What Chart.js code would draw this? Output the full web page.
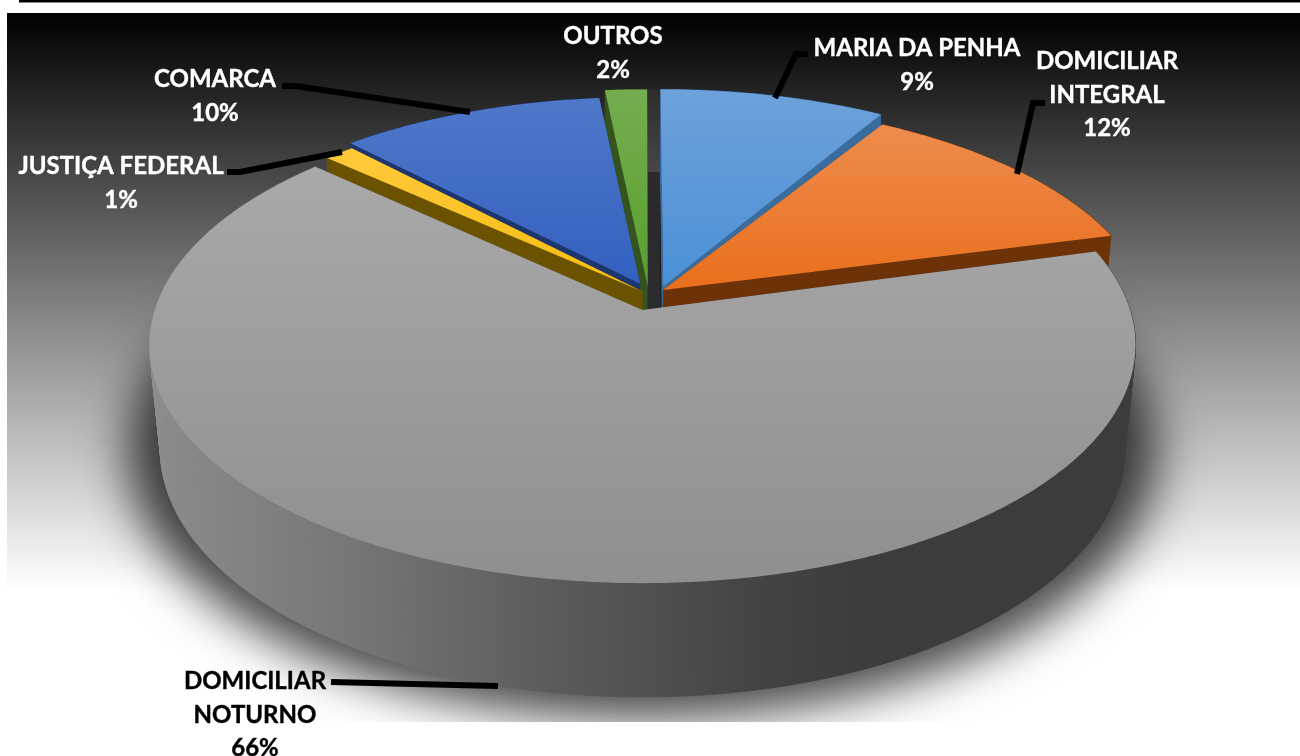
<!DOCTYPE html>
<html><head><meta charset="utf-8">
<style>html,body{margin:0;padding:0;background:#fff}canvas{display:block}</style>
<script src="https://cdn.jsdelivr.net/npm/chart.js@4"></script>
</head><body>
<canvas id="c" width="1300" height="756"></canvas>
<script>
const categories = ['MARIA DA PENHA','DOMICILIAR INTEGRAL','DOMICILIAR NOTURNO','JUSTIÇA FEDERAL','COMARCA','OUTROS'];
const percentValues = [8.6,12.2,66,1.2,10.4,1.6];
const labelLines = [['MARIA DA PENHA'],['DOMICILIAR','INTEGRAL'],['DOMICILIAR','NOTURNO'],['JUSTIÇA FEDERAL'],['COMARCA'],['OUTROS']];
const sliceColors = ['#5b9bd5','#ed7d31','#a5a5a5','#ffc000','#4472c4','#70ad47'];

// presentation only
const topGrad = [['#6ea1da','#4a90d6'],['#ee8c4e','#e96f1c'],['#a9a9a9','#8f8f8f'],['#ffc93c','#f5bd10'],['#4f78c8','#3360c0'],['#74ad50','#5a9f2e']];
const wallCol = ['#3a6c9e','#6e3208','#666','#6b5200','#1c3670','#35531f'];
const explodeU = [.043,.0426,0,0,-.005,.011];
const explodeV = [.1,.087,0,.08,.115,.1];
const radiusU  = [1,1,1,.97,.97,1];
const radiusV  = [1,.95,1,.95,.94,1];
const paintOrder = [0,1,5,4,3,2];
const labelPos = [[917,48],[1107,61],[255,681],[121,166],[215,79],[613,36]];
const labelColor = ['#fff','#fff','#000','#fff','#fff','#fff'];
const leaders = [
 [[808,54],[796,54],[775,98]],
 [[1045,103],[1033,103],[1017,174]],
 [[331,682],[498,686]],
 [[227,172],[240,172],[342,152]],
 [[282,86],[296,86],[470,112]],
];
const P = {cx:642.5, cy:310, A:487.6, B:233, k:.147, D:105.6, m:.022};
function proj(u,v,z){const w=1+P.k*v+P.m*z;return [P.cx+P.A*u/w, P.cy+(-P.B*v+P.D*z)/w];}

function poly(ctx,pts){ctx.beginPath();pts.forEach((p,i)=>i?ctx.lineTo(p[0],p[1]):ctx.moveTo(p[0],p[1]));ctx.closePath();}

const pie3d = {
 id:'pie3d',
 beforeDraw(chart){
  const c=chart.ctx;
  c.save();
  c.fillStyle='#fff';c.fillRect(0,0,1300,756);
  c.fillStyle='#000';c.fillRect(19,0,1281,2.5);
  const g=c.createLinearGradient(0,13,0,590);g.addColorStop(0,'#000');g.addColorStop(1,'#fff');
  c.fillStyle=g;c.fillRect(7,13,1293,577);
  c.restore();
 },
 beforeDatasetDraw(chart){
  const c=chart.ctx, meta=chart.getDatasetMeta(0);
  const slices=meta.data.map((el,i)=>{
    const a0=el.startAngle+Math.PI/2, a1=el.endAngle+Math.PI/2, n=Math.max(4,Math.ceil((a1-a0)*90));
    const arc=[];for(let j=0;j<=n;j++){const a=a0+(a1-a0)*j/n;arc.push([explodeU[i]+radiusU[i]*Math.sin(a),explodeV[i]+radiusV[i]*Math.cos(a)]);}
    return {i,arc,apex:[explodeU[i],explodeV[i]]};
  });
  // soft shadow under the pie
  c.save();
  c.beginPath();c.rect(0,0,1300,722);c.clip();
  const ring=[];for(let j=0;j<=360;j+=2){const a=j*Math.PI/180;ring.push(proj(1.065*Math.sin(a),1.065*Math.cos(a),1));}
  c.shadowColor='rgba(0,0,0,.72)';c.shadowBlur=48;c.shadowOffsetX=3000;c.fillStyle='#000';
  poly(c,ring.map(p=>[p[0]-3000,p[1]]));c.fill();
  c.restore();

  paintOrder.forEach(i=>{
   const s=slices[i];
   const T=s.arc.map(p=>proj(p[0],p[1],0)), Bm=s.arc.map(p=>proj(p[0],p[1],1));
   const A0=proj(s.apex[0],s.apex[1],0),A1=proj(s.apex[0],s.apex[1],1);
   // walls
   let wf=wallCol[i];
   if(i===2){const g=c.createLinearGradient(150,0,1136,0);
     g.addColorStop(0,'#8d8d8d');g.addColorStop(.2,'#777');g.addColorStop(.4,'#5c5c5c');g.addColorStop(.62,'#434343');g.addColorStop(.72,'#3c3c3c');g.addColorStop(1,'#3c3c3c');wf=g;}
   c.fillStyle=wf;c.strokeStyle=wf;c.lineWidth=.8;
   poly(c,[A0,T[0],Bm[0],A1]);c.fill();
   poly(c,[A0,T[T.length-1],Bm[Bm.length-1],A1]);c.fill();
   for(let j=0;j<T.length-1;j++){poly(c,[T[j],T[j+1],Bm[j+1],Bm[j]]);c.fill();c.stroke();}
   // dark strip left of the first slice
   if(i===5){
     const m=slices[0], top=1+m.apex[1], du=m.apex[0];
     const a=proj(du-.002,top,0), b=proj(du-.002,m.apex[1],.22);
     const g=c.createLinearGradient(0,a[1],0,b[1]);
     g.addColorStop(0,'#2c2c2c');g.addColorStop(.375,'#474747');g.addColorStop(.376,'#2a2a2d');g.addColorStop(1,'#2c2c2e');
     c.fillStyle=g;c.fillRect(a[0]-12,a[1],12,b[1]-a[1]);
   }
   // top face
   const ys=T.concat([A0]).map(p=>p[1]);
   const g=c.createLinearGradient(0,Math.min(...ys),0,Math.max(...ys));
   g.addColorStop(0,topGrad[i][0]);g.addColorStop(1,topGrad[i][1]);
   c.fillStyle=g;poly(c,[A0].concat(T));c.fill();
  });
  return false;
 },
 afterDatasetsDraw(chart){
  const c=chart.ctx;
  c.save();
  c.strokeStyle='#000';c.lineWidth=6;c.lineJoin='miter';
  leaders.forEach(l=>{c.beginPath();l.forEach((p,i)=>i?c.lineTo(p[0],p[1]):c.moveTo(p[0],p[1]));c.stroke();});
  c.font='bold 24px Lato';c.textAlign='center';c.textBaseline='middle';c.lineWidth=.4;c.lineJoin='round';
  const data=chart.data.datasets[0].data;
  labelLines.forEach((lines,i)=>{
    c.fillStyle=c.strokeStyle=labelColor[i];
    const all=lines.concat([Math.round(data[i])+'%']);
    all.forEach((t,j)=>{const y=labelPos[i][1]+j*33.8;c.fillText(t,labelPos[i][0],y);c.strokeText(t,labelPos[i][0],y);});
  });
  c.restore();
 }
};

new Chart(document.getElementById('c'),{
 type:'pie',
 data:{labels:categories,datasets:[{data:percentValues,backgroundColor:sliceColors,borderWidth:0}]},
 options:{responsive:false,animation:false,rotation:0,
  plugins:{legend:{display:false},tooltip:{enabled:false}}},
 plugins:[pie3d]
});
</script>
</body></html>
